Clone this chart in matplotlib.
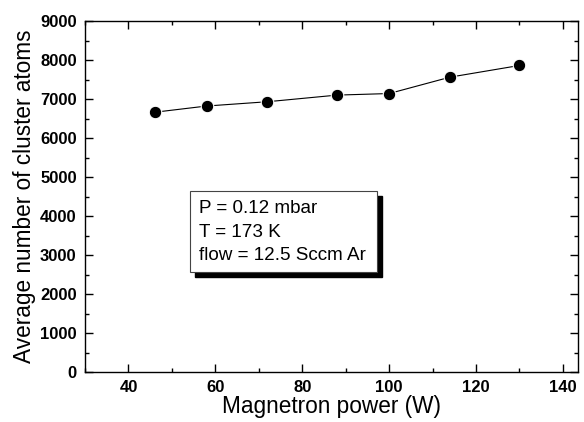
import matplotlib
matplotlib.use('Agg')
import matplotlib.pyplot as plt
from matplotlib.patches import Rectangle
from matplotlib.ticker import MultipleLocator

plt.rcParams['font.family'] = ['Liberation Sans', 'DejaVu Sans']

power = [46, 58, 72, 88, 100, 114, 130]
atoms = [6660, 6820, 6930, 7100, 7140, 7560, 7860]
box_lines = ['P = 0.12 mbar', 'T = 173 K', 'flow = 12.5 Sccm Ar']

fig = plt.figure(figsize=(5.84, 4.22), dpi=100)
ax = fig.add_axes([85/584, 1 - 372/422, 492.7/584, 351/422])

ax.plot(power, atoms, '-', color='black', lw=0.8, marker='o', ms=9,
        mfc='black', mec='white', mew=0.8)

ax.set_xlim(30, 143.4)
ax.set_ylim(0, 9000)
ax.xaxis.set_major_locator(MultipleLocator(20))
ax.xaxis.set_minor_locator(MultipleLocator(10))
ax.yaxis.set_major_locator(MultipleLocator(1000))
ax.yaxis.set_minor_locator(MultipleLocator(500))
ax.tick_params(which='both', direction='in', top=True, right=True, width=1.0)
ax.tick_params(which='major', length=6, labelsize=12, pad=6)
ax.tick_params(which='minor', length=3)
for lab in ax.get_xticklabels() + ax.get_yticklabels():
    lab.set_fontweight('bold')
for s in ax.spines.values():
    s.set_linewidth(1.0)

ax.set_xlabel('Magnetron power (W)', fontsize=16.3, labelpad=0)
ax.set_ylabel('Average number of cluster atoms', fontsize=16.3, labelpad=3)

# text box with drop shadow
bx0, by0, bw, bh = 0.213, 0.285, 0.379, 0.2315
sx, sy = 5/492.7, 5/351
ax.add_patch(Rectangle((bx0 + sx, by0 - sy), bw, bh, transform=ax.transAxes,
                       facecolor='black', edgecolor='black', zorder=4))
ax.add_patch(Rectangle((bx0, by0), bw, bh, transform=ax.transAxes,
                       facecolor='white', edgecolor='#444444', lw=0.8, zorder=5))
for i, t in enumerate(box_lines):
    ax.text(bx0 + 0.018, by0 + bh - 0.064 - i * 0.067, t, transform=ax.transAxes,
            fontsize=13.6, zorder=6, va='baseline')

fig.savefig('out.png', dpi=100)
